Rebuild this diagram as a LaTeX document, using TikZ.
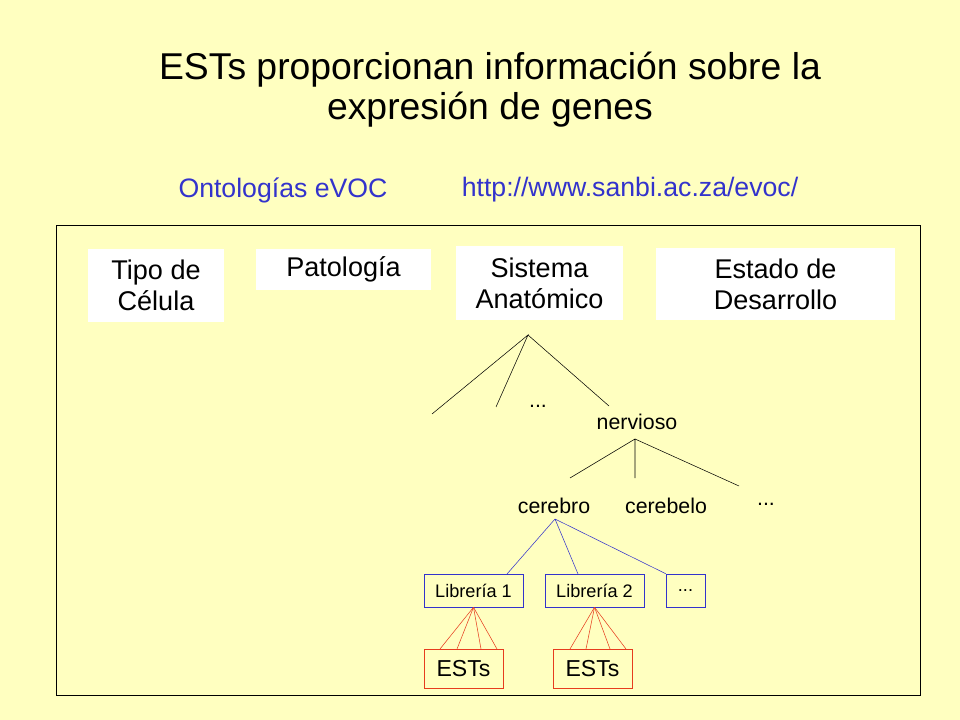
\documentclass[tikz,border=0pt]{standalone}
\usepackage{fontspec}
\setmainfont{Liberation Sans}
\definecolor{bg}{RGB}{255,255,192}
\definecolor{blu}{RGB}{51,51,204}
\definecolor{red1}{RGB}{230,60,30}
\begin{document}
\begin{tikzpicture}[x=0.75pt,y=-0.75pt,
  wbox/.style={fill=white,draw=none,align=center,font=\fontsize{20.3}{23}\selectfont,inner sep=0},
  lbl/.style={font=\fontsize{16}{18}\selectfont,inner sep=0},
  libbox/.style={draw=blu,fill=none,font=\fontsize{13.6}{16}\selectfont,inner sep=0},
  estbox/.style={draw=red1,font=\fontsize{17.3}{20}\selectfont,inner sep=0},
  bl/.style={draw=blu}, rl/.style={draw=red1}]
\fill[bg] (0,0) rectangle (960,720);
\useasboundingbox (0,0) rectangle (960,720);
\node[align=center,font=\fontsize{28}{30}\selectfont] (title) at (490,90) {ESTs proporcionan información sobre la\\expresión de genes};
\node[text=blu,font=\fontsize{20}{22}\selectfont] (ont) at (283,190) {Ontologías eVOC};
\node[text=blu,font=\fontsize{20}{22}\selectfont] (url) at (630,190) {http://www.sanbi.ac.za/evoc/};
\draw (56,225) rectangle (920,695);
\node[wbox,minimum width=136*0.75pt,minimum height=73*0.75pt] (tipo) at (156,285.5) {Tipo de\\Célula};
\node[wbox,minimum width=175*0.75pt,minimum height=41*0.75pt] (pat) at (343.5,269.5) {Patología};
\node[wbox,minimum width=167*0.75pt,minimum height=74*0.75pt] (sis) at (539.5,283) {Sistema\\Anatómico};
\node[wbox,minimum width=239*0.75pt,minimum height=72*0.75pt] (est) at (775.5,284) {Estado de\\Desarrollo};
\coordinate (r) at (528,335);
\coordinate (e1) at (432,414); \coordinate (e2) at (496,407); \coordinate (e3) at (609,406);
\draw (e1) -- (r) -- (e2) (r) -- (e3);
\node[lbl] (d1) at (538,406) {...};
\node[lbl] (nerv) at (637,422) {nervioso};
\coordinate (n) at (635,439);
\coordinate (f1) at (570,478); \coordinate (f2) at (635,478); \coordinate (f3) at (739,486);
\draw (f1) -- (n) -- (f2) (n) -- (f3);
\node[lbl] (cer) at (554,506) {cerebro};
\node[lbl] (cbl) at (666,506) {cerebelo};
\node[lbl] (d2) at (766,504) {...};
\coordinate (c) at (555,519);
\node[libbox,minimum width=99*0.75pt,minimum height=33*0.75pt] (l1) at (473.5,590.5) {Librería 1};
\node[libbox,minimum width=99*0.75pt,minimum height=33*0.75pt] (l2) at (594.5,590.5) {Librería 2};
\node[libbox,minimum width=39*0.75pt,minimum height=33*0.75pt] (l3) at (685.5,590.5) {...};
\draw[bl] (c) -- (507,574) (c) -- (578,574) (c) -- (l3.north west);
\node[estbox,minimum width=79*0.75pt,minimum height=39*0.75pt] (s1) at (463.5,668.5) {ESTs};
\node[estbox,minimum width=79*0.75pt,minimum height=39*0.75pt] (s2) at (592.5,668.5) {ESTs};
\foreach \x in {440,457,481,497} \draw[rl] (l1.south) -- (\x,649);
\foreach \x in {570,586,610,626} \draw[rl] (l2.south) -- (\x,649);
\end{tikzpicture}
\end{document}
